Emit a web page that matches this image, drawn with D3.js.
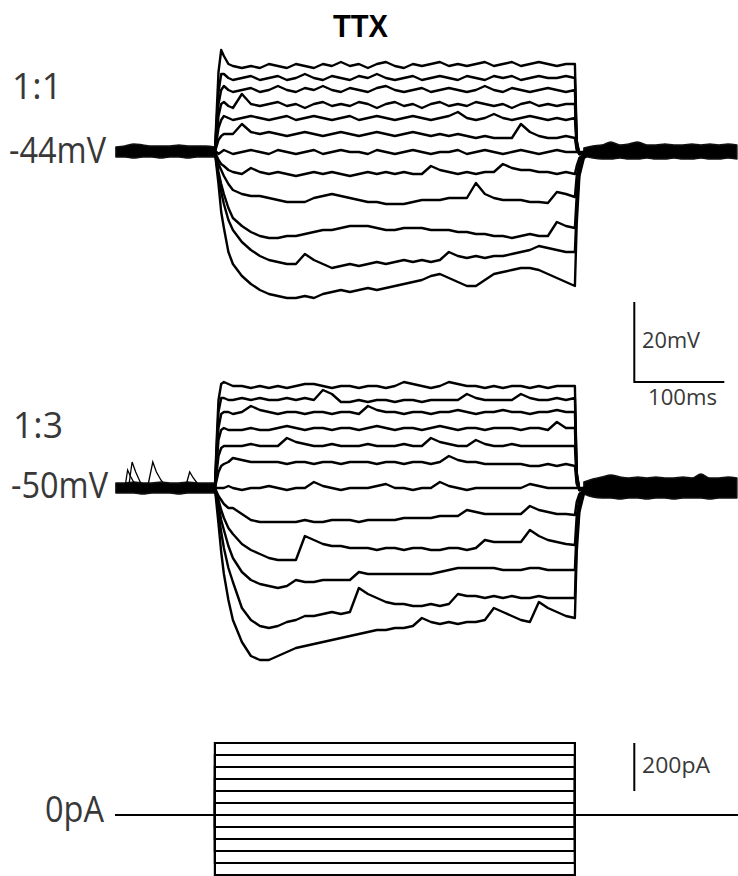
<!DOCTYPE html>
<html><head><meta charset="utf-8">
<script src="https://cdn.jsdelivr.net/npm/d3@7"></script>
<style>body{margin:0;background:#fff}svg{display:block}</style>
</head><body>
<svg id="chart" width="738" height="876"></svg>
<script>
// ---------------- DATA ----------------
const title = "TTX";
const panelLabels = ["1:1", "1:3"];
const restingPotentials = [-44, -50];           // mV
const currentLevels = [300,250,200,150,100,50,0,-50,-100,-150,-200,-250]; // pA
const stepOn = 0, stepOff = 400;                 // ms
const sweepStart = -111, sweepEnd = 581;         // ms
const scaleBarLabels = {v:"20mV", t:"100ms", i:"200pA", zero:"0pA"};

// sample times (ms) for the traces during/after the current step
const stepTimes = [0,2,4,7,10,15,20,30,40,50,60,70,80,90,100,110,120,130,140,150,160,170,180,190,200,210,220,230,240,250,260,270,280,290,300,310,320,330,340,350,360,370,380,390,400,402,405,410,420];

// Panel 1 (1:1) – deflection from rest (mV), one array per current step
const p1_300 = [0,10,20,25.5,24,22,21.5, 21,21.5,21,22,21.5,21,22,21.5,21,22,21.5,22.5,21.5,22,21,22,22.5,21.5,21,22,21.5,22,22.5,21.5,22,21.5,22,22.5,21.5,22,22.5,21.5,22,22.5,22,21.5,22,22, 3,-0.5,0,0];
const p1_250 = [0,8,15,19.5,19.5,18.5,18, 18.5,19,18,18.5,19,18,18.5,19.5,18.5,18,19,18.5,18,19,18.5,19.5,18.5,18,18.5,19,18,18.5,19,18.5,18,19,18.5,18,19,18.5,19,18,18.5,19,18.5,18.5,19,18.5, 2.5,-0.5,0,0];
const p1_200 = [0,6,12,15.5,16.5,15.5,15, 15.5,16,15,15.5,16.5,15.5,15,16,15.5,16.5,15.5,15,16,15.5,15,16,16.5,15.5,15,15.5,16,15,15.5,16,15.5,15,15.5,16.5,15.5,15,16,15.5,15,15.5,16,15.5,15,15.5, 2,-0.5,0,0];
const p1_150 = [0,4,9,12,12.5,11.5,11, 14.5,12,11.5,12,12.5,11.5,12,11,12,12.5,11.5,12,11.5,12.5,12,11,12,12.5,11.5,12,11,12,12.5,11.5,12,11.5,12.5,12,11.5,12,11,12,12.5,11.5,12,11.5,12,12, 1.5,-0.5,0,0];
const p1_100 = [0,3,6,8,9,8.5,8, 8.5,9,8.5,8,8.5,9,8,8.5,9,8.5,8,8.5,9,8,8.5,9,8.5,8,8.5,9,8.5,8,8.5,9,10,8.5,8,8.5,9.5,8.5,8,8.5,9,8.5,8,8.5,8,8.5, 1,-0.5,0,0];
const p1_50  = [0,1.5,3,4,4.5,4.5,4.5, 7,5,4.5,5,4.5,4,4.5,5,4.5,4,4.5,5,4.5,4,4.5,5,4.5,4,4.5,5,4.5,4,4.5,4,4.5,4,3.5,4,3.5,3.5,3.5,7,5,4,3.5,3.5,4,3.5, 0.5,-0.5,0,0];
const p1_0   = [0,0,-0.5,0,0.5,0,-0.5, 0,0.5,0,-0.5,0.5,0,-0.5,0,0.5,-0.5,0,0.5,0,0,-0.5,0.5,0,-0.5,0,0.5,0,-0.5,0,0,0.5,-0.5,0,0.5,0,-0.5,0,0.5,0,-0.5,0,0.5,0,0, 0,0,0,0];
const p1_m50 = [0,-1,-2,-3,-3.5,-4.5,-5, -5.5,-4,-5,-5.5,-5,-5.5,-6,-5.5,-5,-5.5,-5,-5.5,-6,-5.5,-5,-5.5,-5,-5.5,-5,-5.5,-5.5,-3.5,-4.5,-5,-5.5,-5,-5.5,-5,-5,-3,-4,-4.5,-4.5,-5,-5,-5.5,-5,-5.5, -3.5,-1.5,-0.5,0];
const p1_m100 = [0,-1.5,-3,-4.5,-6,-8,-9.5, -10.5,-11,-11,-11.5,-12,-12.5,-12.5,-12.5,-11.5,-11,-10.5,-11,-11.5,-12,-12.5,-12.5,-13,-13,-13,-12.5,-12,-12,-12,-11.5,-11.5,-11.5,-7.75,-10.5,-11.5,-12,-12,-12,-12.5,-12.5,-12.75,-10,-10.5,-11.25, -6,-2.5,-0.5,0];
const p1_m150 = [0,-2.5,-5,-8,-10.5,-14,-16.5, -18.5,-20,-21,-21.5,-21.5,-21,-21,-20.5,-20,-19.5,-19.5,-19,-18.5,-18.5,-18.5,-19,-19.5,-19.5,-19,-19,-19,-19.5,-19.5,-19.5,-20,-20,-20.5,-20.5,-21,-21,-21.5,-21,-20.5,-21,-21,-17.5,-18.5,-19, -11,-4,-1,0];
const p1_m200 = [0,-3,-6,-10,-13,-17,-19.5, -22.5,-24.5,-26,-27,-27.5,-28,-28,-25.5,-27,-28,-29,-28.5,-28,-28.5,-28,-27.5,-28,-27.5,-27,-27.5,-27,-27.5,-27,-25,-26,-26.5,-26,-26.5,-26,-26,-25.5,-25,-24.5,-23.5,-24,-24.5,-25,-25, -14,-5,-1,0];
const p1_m250 = [0,-4,-8,-15,-19,-25,-28, -31,-33,-34.5,-35.5,-36,-36.5,-36.5,-36,-36.5,-35.5,-35,-34.5,-35,-34.5,-34,-34.5,-34,-33.5,-33,-32.5,-32,-31,-30.5,-31.5,-32.5,-33.5,-33.5,-32,-30.5,-30,-29.5,-29,-29,-29.5,-30.5,-31.5,-32.5,-33.5, -18,-6,-1.5,0];

// Panel 2 (1:3)
const p2_300 = [0,12,22,26,26.5,26,25.5, 25.5,25,25.5,25,25.5,25,25.5,26,26,25.5,25,25.5,25.5,25,25.5,25.5,25,25.5,26.5,26,25.5,25,25.5,26.5,26,25.5,25.5,25,25.5,25,25.5,25.5,25,25.5,25,25.5,25.5,25.5, 4,-0.5,0,0];
const p2_250 = [0,10,19,22.5,22.5,22,22, 22.5,22,22.5,22,22,22.5,22,22.5,22,24.5,23.5,21.5,21.5,22,21.5,22,22,21.5,22,22,21.5,22,22,22,22,23.5,22.5,22,22,22,22,23.5,22.5,22,22,22.5,22,22.5, 3.5,-0.5,0,0];
const p2_200 = [0,8,15,18.5,19,19,18.5, 19,20.5,19.5,19,18.5,19,19,18.5,19,19,18.5,19,19,18.5,20.5,19.5,19,19,18.5,19,19,18.5,19,19,19.5,19,18.5,19,19,19.5,19,19,18.5,19,19,19.5,19,19, 3,-0.5,0,0];
const p2_150 = [0,6,12,14.5,15,14.5,14.5, 14.5,15,14.5,14.5,15,15.5,15,14.5,15,15,14.5,15,15,14.5,15,15.5,15,14.5,15,15,14.5,15,15.5,15,14.5,15,15,14.5,15,15,15,14.5,15,15,14.5,16.5,15,15, 2.5,-0.5,0,0];
const p2_100 = [0,4,8,10,10.5,10.5,10.5, 10.5,11,10.5,10.5,10.5,12.5,11.5,11,10.5,10.5,11,10.5,10.5,10.5,11,10.5,10.5,10.5,11,10.5,10.5,12.5,11.5,11,10.5,10.5,12,11,10.5,10.5,11,10.5,10.5,10.5,10.5,10.5,10.5,10.5, 1.5,-0.5,0,0];
const p2_50  = [0,2,4,5.5,6,6.5,7.5, 7,6.5,6.5,6.5,6.5,6,6.5,6.5,6,6.5,6.5,6,6.5,6.5,6.5,6,6.5,6.5,6,6.5,6.5,6,6.5,8,7,6.5,6.5,6,6,6,6,6,5.5,5.5,6,5.5,6,5.5, 1,-0.5,0,0];
const p2_0   = [0,0,0,0,0,0.5,0, -0.5,0,0,0.5,0,-0.5,0,0,1.5,0.5,0,-0.5,0,0,0,0.5,1,0,0,-0.5,0,0,1.5,0.5,0,-0.5,0,0,0,0,0,0,1,0.5,0,0,0,0, 0,0,0,0];
const p2_m50 = [0,-1,-2,-3,-4,-5,-5, -6.5,-8,-8.5,-8.5,-8.5,-8.5,-8.5,-8,-8.5,-8.5,-8,-8,-8,-8.5,-8,-8,-8,-8,-7.5,-7.5,-7.5,-7.5,-7,-7,-7,-5.5,-6,-6.5,-6.5,-6.5,-6.5,-6.5,-4.5,-5.5,-6,-6.5,-6.5,-6.75, -3.5,-1.5,-0.5,0];
const p2_m100 = [0,-1.5,-3,-5.5,-7.5,-10,-11.5, -14,-15.5,-16.5,-17.5,-18,-18,-18,-12,-13,-14,-14.5,-14.5,-15,-15,-15,-15.5,-15,-15,-15.5,-15,-15,-15.5,-15.5,-15,-15,-15.5,-15,-13,-13.5,-13.5,-13.5,-13.5,-10.5,-12,-13,-13.5,-14,-14.25, -7,-2.5,-0.5,0];
const p2_m150 = [0,-2,-4.5,-8,-10.5,-14.5,-17.5, -21,-23,-24,-24.5,-25,-24.5,-23,-23.5,-23.5,-23,-23,-23,-23,-21,-21.5,-21.5,-21.5,-21.5,-21.5,-21.5,-21.5,-21.5,-21,-20.5,-20,-20,-20,-20,-20,-20.5,-20.5,-20.5,-20,-20,-20.5,-20.5,-20.5,-20.5, -10,-4,-1,0];
const p2_m200 = [0,-3,-6.5,-11,-15,-20,-23.5, -30,-33,-34.5,-35,-34.5,-33.5,-33,-32,-32,-31.5,-31,-31.5,-31,-25,-26.5,-27.5,-28.5,-29,-29,-29.5,-29.5,-29,-29.5,-29,-26.5,-27,-27,-27.5,-27,-27.5,-27,-27.5,-27.5,-27,-27.5,-27.5,-27.5,-27.5, -13,-5,-1,0];
const p2_m250 = [0,-4.5,-9,-16,-21.5,-28,-33, -38.5,-42,-43,-43,-42,-41,-40,-39.5,-39,-38.5,-38,-37.5,-37,-36.5,-36,-35.5,-35.5,-35,-35,-34.5,-32.5,-33.5,-34,-33.5,-34,-33.5,-33.5,-33,-30,-31,-32,-33,-33.5,-28.5,-30,-31,-32,-32.5, -16,-6,-1.5,0];

// Baseline noise envelopes (deflection from rest, mV) before and after the step
const preTimes  = [-110,-100,-90,-80,-70,-60,-50,-40,-30,-20,-10,0];
const postTimes = [410,420,430,440,450,460,470,480,490,500,510,520,530,540,550,560,570,580];
const p1PreUpper  = [1.25,1.5,2,1.75,1.5,1.5,1.5,1.75,1.5,1.5,1.5,1.25];
const p1PreLower  = [-1.25,-1.25,-1.5,-1.25,-1.25,-1.5,-1.25,-1.25,-1.5,-1.25,-1.25,-1.25];
const p1PostUpper = [1,1.5,1.75,2.5,1.75,2,2.5,1.75,1.75,2,1.75,1.75,2,1.75,2,1.75,2,1.75];
const p1PostLower = [-1,-1.5,-1.75,-1.75,-1.5,-1.75,-1.75,-1.5,-1.75,-1.75,-1.5,-1.75,-1.75,-1.5,-1.75,-1.75,-1.5,-1.75];
const p2PreUpper  = [1.25,1.25,1.5,1.25,1.25,1.5,1.25,1.25,1.5,1.25,1.25,1.25];
const p2PreLower  = [-1.25,-1.25,-1.25,-1.5,-1.25,-1.25,-1.25,-1.5,-1.25,-1.25,-1.25,-1.25];
const p2PostUpper = [1.5,2.25,2.75,3.25,2.75,2.5,2.75,2.5,2.75,2.5,2.5,2.75,2.5,3.5,2.5,2.5,2.75,2.5];
const p2PostLower = [-1.5,-2.25,-2.5,-2.5,-2.75,-2.5,-2.5,-2.75,-2.5,-2.5,-2.75,-2.5,-2.5,-2.5,-2.75,-2.5,-2.5,-2.5];

// Spontaneous events on the panel 2 baseline: [time ms, deflection mV]
const p2EventA = [[-100,0],[-97,4.5],[-94,3],[-89,1],[-85,0]];
const p2EventB = [[-96,0],[-92,6.5],[-88,4],[-84,2],[-80,0]];
const p2EventC = [[-75,0],[-69,6.5],[-65,4],[-60,2],[-55,0.5],[-50,0]];
const p2EventD = [[-33,0],[-28,4],[-24,2.5],[-19,1],[-15,0]];

// ---------------- CHART ----------------
const svg = d3.select("#chart");
const x = d3.scaleLinear().domain([sweepStart, sweepEnd]).range([115, 737.8]);
const y1 = d3.scaleLinear().domain([-90, -10]).range([336, 16]);
const y2 = d3.scaleLinear().domain([-100, -10]).range([688, 328]);
const yI = d3.scaleLinear().domain([-300, 300]).range([887, 743]);

const panels = [
  {y: y1, rest: restingPotentials[0], traces: [p1_300,p1_250,p1_200,p1_150,p1_100,p1_50,p1_0,p1_m50,p1_m100,p1_m150,p1_m200,p1_m250],
   pre: [p1PreUpper, p1PreLower], post: [p1PostUpper, p1PostLower], events: []},
  {y: y2, rest: restingPotentials[1], traces: [p2_300,p2_250,p2_200,p2_150,p2_100,p2_50,p2_0,p2_m50,p2_m100,p2_m150,p2_m200,p2_m250],
   pre: [p2PreUpper, p2PreLower], post: [p2PostUpper, p2PostLower], events: [p2EventA,p2EventB,p2EventC,p2EventD]}
];

panels.forEach(p => {
  const g = svg.append("g");
  const band = (times, up, lo) => d3.area()
      .x((d,i) => x(times[i]))
      .y0((d,i) => p.y(p.rest + lo[i]))
      .y1((d,i) => p.y(p.rest + up[i]))
      .curve(d3.curveMonotoneX)(times);
  g.append("path").attr("d", band(preTimes, p.pre[0], p.pre[1]))
    .attr("fill", "#000").attr("stroke", "#111").attr("stroke-width", 1.5).attr("stroke-linejoin","round");
  g.append("path").attr("d", band(postTimes, p.post[0], p.post[1]))
    .attr("fill", "#000").attr("stroke", "#111").attr("stroke-width", 1.5).attr("stroke-linejoin","round");
  const line = d3.line().x(d => x(d[0])).y(d => p.y(p.rest + d[1]));
  p.events.forEach(ev => {
    g.append("path").attr("d", line(ev)).attr("fill","none").attr("stroke","#000").attr("stroke-width",1.3);
  });
  p.traces.forEach(tr => {
    const pts = stepTimes.map((t,i) => [t, tr[i]]);
    g.append("path").attr("d", line(pts)).attr("fill","none")
      .attr("stroke","#000").attr("stroke-width",2.4).attr("stroke-linejoin","round");
  });
});

// current command traces
const iLine = d3.line().x(d => x(d[0])).y(d => yI(d[1]));
currentLevels.forEach(I => {
  const pts = [[sweepStart,0],[stepOn,0],[stepOn,I],[stepOff,I],[stepOff,0],[sweepEnd,0]];
  svg.append("path").attr("d", iLine(pts)).attr("fill","none")
    .attr("stroke","#000").attr("stroke-width",2.2).attr("stroke-linejoin","miter");
});

// scale bars
const barT = 466;
svg.append("path").attr("fill","none").attr("stroke","#000").attr("stroke-width",2)
  .attr("d", d3.line()([[x(barT), y1(-81.5)], [x(barT), y1(-101.5)], [x(barT+100), y1(-101.5)]]));
svg.append("line").attr("stroke","#000").attr("stroke-width",2)
  .attr("x1", x(barT)).attr("x2", x(barT)).attr("y1", yI(100)).attr("y2", yI(300));

// text
const font = "'Open Sans', 'Noto Sans', sans-serif";
function label(txt, xx, yy, size, len, opts={}) {
  const t = svg.append("text").attr("x", xx).attr("y", yy).text(txt)
    .attr("font-family", opts.family || font).attr("font-size", size)
    .attr("fill", opts.fill || "#383838").attr("font-weight", opts.weight || 400);
  if (len) t.attr("textLength", len).attr("lengthAdjust", "spacingAndGlyphs");
  return t;
}
label(title, 333, 37, 32, 55, {family:"'Liberation Sans', Arial, sans-serif", weight:700, fill:"#000"});
label(panelLabels[0], 12, 99, 36, 50);
label(restingPotentials[0] + "mV", 9, 163, 36, 97);
label(panelLabels[1], 13, 438, 36, 50);
label(restingPotentials[1] + "mV", 11, 498, 36, 97);
label(scaleBarLabels.zero, 45, 822, 36, 59);
label(scaleBarLabels.v, 642, 348, 21, 58);
label(scaleBarLabels.t, 648, 405, 21, 69);
label(scaleBarLabels.i, 642, 773, 21, 68);
</script>
</body></html>
